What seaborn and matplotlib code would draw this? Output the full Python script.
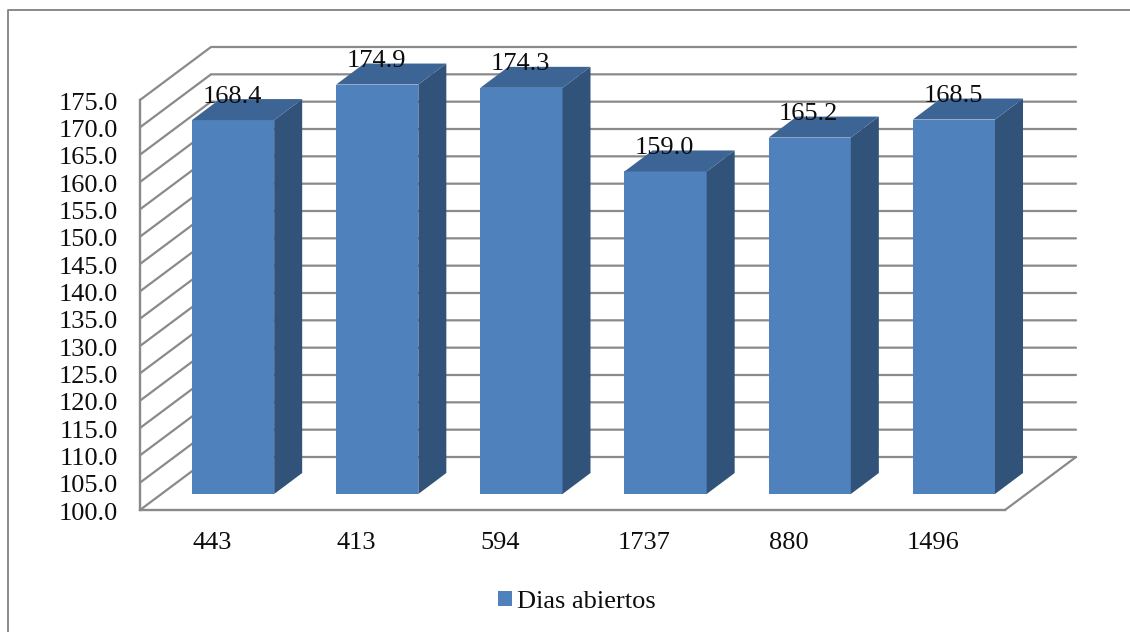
import matplotlib
matplotlib.use("Agg")
import matplotlib.pyplot as plt
from matplotlib.lines import Line2D
from matplotlib.patches import Polygon
from matplotlib.transforms import ScaledTranslation
import pandas as pd
import seaborn as sns

categories = ["443", "413", "594", "1737", "880", "1496"]
dias_abiertos = [168.4, 174.9, 174.3, 159.0, 165.2, 168.5]
y_ticks = [100 + 5 * i for i in range(16)]
series_name = "Dias abiertos"

W, H = 1130, 632
FRONT, TOP, SIDE = "#4F81BD", "#3C6494", "#325379"
GRID = "#8A8A8A"
TEXT = "#0D0D0D"
FONT = 19

sns.set_theme(style="white")
plt.rcParams["font.family"] = ["Liberation Serif", "DejaVu Serif"]


def place(left, top, right, bottom):
    """Axes rectangle from pixel edges measured from the top-left corner."""
    return [left / W, 1 - bottom / H, (right - left) / W, (bottom - top) / H]


fig = plt.figure(figsize=(W / 100, H / 100), dpi=100, facecolor="white")

# Outer chart border runs off the right and bottom edges of the canvas
fig.add_artist(Line2D([8 / W, 8 / W, 1], [0, 1 - 10 / H, 1 - 10 / H], color=GRID, lw=1.4))

# Front plane of the chart box carries the axes and their labels
ax = fig.add_axes(place(140, 100, 1005, 510))
ax.set_xlim(-0.5, 5.5)
ax.set_ylim(100, 175)
ax.set_yticks(y_ticks, [f"{t:.1f}" for t in y_ticks])
ax.set_xticks(range(len(categories)), categories)
ax.tick_params(axis="y", length=0, pad=16, labelsize=FONT, labelcolor=TEXT)
ax.tick_params(axis="x", length=0, pad=15.5, labelsize=FONT, labelcolor=TEXT)
nudge = ScaledTranslation(0, -1 / 100, fig.dpi_scale_trans)
for label in ax.get_yticklabels():
    label.set_transform(label.get_transform() + nudge)
for name, spine in ax.spines.items():
    spine.set_visible(name in ("left", "bottom"))
    spine.set_color(GRID)
    spine.set_linewidth(1.7)

# Box depth in data units: walls recede 71 px right and 53 px up
px_x = 6 / 865
px_y = 75 / 410
wall_dx, wall_dy = 71 * px_x, 53 * px_y
for t in y_ticks:
    ax.plot([-0.5, -0.5 + wall_dx, 5.5 + wall_dx], [t, t + wall_dy, t + wall_dy],
            color=GRID, lw=1.6, clip_on=False, solid_joinstyle="miter")
ax.plot([5.5, 5.5 + wall_dx], [100, 100 + wall_dy], color=GRID, lw=1.6, clip_on=False)

# Bars stand on the floor, set back from the front plane
bars = fig.add_axes(place(161, 84, 1026, 494))
bars.patch.set_alpha(0)
data = pd.DataFrame({"lote": categories, "dias": dias_abiertos})
sns.barplot(data=data, x="lote", y="dias", color=FRONT, saturation=1, width=0.57,
            label=series_name, ax=bars, linewidth=0, edgecolor=FRONT, legend=False)
bars.set_xlim(-0.5, 5.5)
bars.set_ylim(100, 175)
bars.axis("off")
handles, labels = bars.get_legend_handles_labels()
if bars.get_legend() is not None:
    bars.get_legend().remove()

bar_dx, bar_dy = 28 * px_x, 21 * px_y
for patch, value in zip(list(bars.patches), dias_abiertos):
    x0 = patch.get_x()
    x1 = x0 + patch.get_width()
    bars.add_patch(Polygon([(x1, 100), (x1 + bar_dx, 100 + bar_dy),
                            (x1 + bar_dx, value + bar_dy), (x1, value)],
                           facecolor=SIDE, edgecolor="none", clip_on=False))
    bars.add_patch(Polygon([(x0, value), (x1, value), (x1 + bar_dx, value + bar_dy),
                            (x0 + bar_dx, value + bar_dy)],
                           facecolor=TOP, edgecolor="none", clip_on=False))
    bars.annotate(f"{value:.1f}", ((x0 + x1) / 2, value), xytext=(-0.7, 12.6),
                  textcoords="offset points", ha="center", va="baseline",
                  fontsize=FONT, color=TEXT, annotation_clip=False, zorder=5)

fig.legend(handles[:1], labels[:1], loc="center", bbox_to_anchor=(577 / W, 1 - 602 / H),
           frameon=False, fontsize=FONT, handlelength=0.53, handleheight=0.53,
           handletextpad=0.2, labelcolor=TEXT, borderpad=0)

fig.savefig("out.png", dpi=100)
